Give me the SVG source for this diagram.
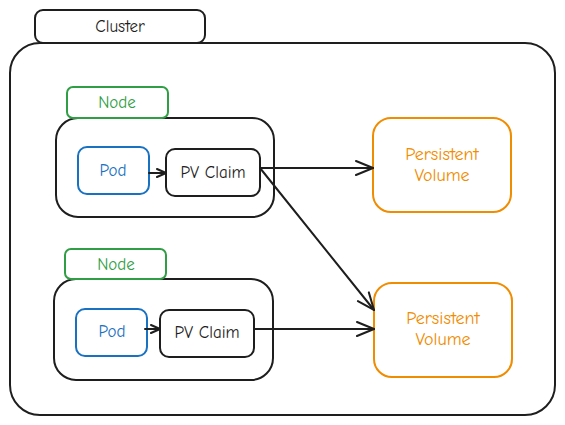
<svg xmlns="http://www.w3.org/2000/svg" width="565" height="425" viewBox="0 0 565 425">
<defs>
<style>
.k{fill:none;stroke:#1e1e1e;stroke-width:2}
.g{fill:none;stroke:#2f9e44;stroke-width:2}
.b{fill:none;stroke:#1971c2;stroke-width:2}
.o{fill:none;stroke:#f08c00;stroke-width:2}
text{font-family:"Comic Neue","Liberation Sans",sans-serif;font-size:17px;text-anchor:middle;dominant-baseline:central}
.tk{fill:#1e1e1e}.tg{fill:#2f9e44}.tb{fill:#1971c2}.to{fill:#f08c00;font-size:18px}
.c{fill:none;stroke:#1e1e1e;stroke-width:2;stroke-linecap:round;stroke-linejoin:round}
</style>
<marker id="ah" viewBox="0 0 20 20" refX="19" refY="10" markerWidth="20" markerHeight="20" markerUnits="userSpaceOnUse" orient="auto">
<path d="M2,3 L19,10 L2,17" fill="none" stroke="#1e1e1e" stroke-width="2" stroke-linecap="round"/>
</marker>
<marker id="as" viewBox="0 0 12 12" refX="11" refY="6" markerWidth="12" markerHeight="12" markerUnits="userSpaceOnUse" orient="auto">
<path d="M2,2 L11,6 L2,10" fill="none" stroke="#1e1e1e" stroke-width="2" stroke-linecap="round"/>
</marker>
</defs>
<g id="cluster">
<rect class="k" x="10" y="43" width="545" height="372" rx="30"/>
<rect class="k" x="35" y="10" width="170" height="33" rx="8" style="fill:#fff"/>
<text class="tk" x="120" y="26">Cluster</text>
</g>
<g id="node1">
<rect class="k" x="56" y="118" width="218" height="99" rx="22"/>
<rect class="g" x="67" y="87" width="101" height="31" rx="6"/>
<text class="tg" x="117" y="102">Node</text>
</g>
<g id="pod1">
<rect class="b" x="78" y="147" width="71" height="47" rx="9"/>
<text class="tb" x="113" y="170">Pod</text>
</g>
<g id="pvc1">
<rect class="k" x="166" y="149" width="94" height="47" rx="9"/>
<text class="tk" x="213" y="172">PV Claim</text>
</g>
<g id="node2">
<rect class="k" x="54" y="279" width="219" height="101" rx="22"/>
<rect class="g" x="65" y="249" width="101" height="30" rx="6"/>
<text class="tg" x="116" y="264">Node</text>
</g>
<g id="pod2">
<rect class="b" x="76" y="309" width="71" height="47" rx="9"/>
<text class="tb" x="112" y="331">Pod</text>
</g>
<g id="pvc2">
<rect class="k" x="160" y="310" width="94" height="47" rx="9"/>
<text class="tk" x="207" y="332">PV Claim</text>
</g>
<g id="pv1">
<rect class="o" x="373" y="118" width="138" height="94" rx="18"/>
<text class="to" x="442" y="154">Persistent</text>
<text class="to" x="442" y="175">Volume</text>
</g>
<g id="pv2">
<rect class="o" x="374" y="283" width="138" height="94" rx="18"/>
<text class="to" x="443" y="318">Persistent</text>
<text class="to" x="443" y="339">Volume</text>
</g>
<g id="connectors">
<path class="c" d="M149,173 L166,173" marker-end="url(#as)"/>
<path class="c" d="M145,329 L160,329" marker-end="url(#as)"/>
<path class="c" d="M260,168 L373,168" marker-end="url(#ah)"/>
<path class="c" d="M260,168 L374,310" marker-end="url(#ah)"/>
<path class="c" d="M254,329 L374,329" marker-end="url(#ah)"/>
</g>
</svg>
